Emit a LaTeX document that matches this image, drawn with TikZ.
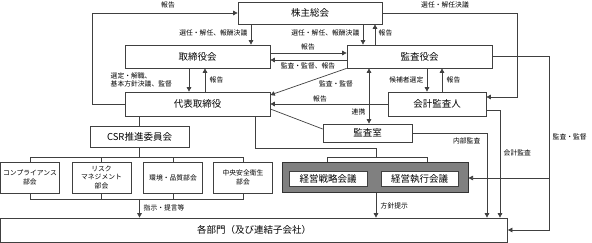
\documentclass[tikz,border=0pt]{standalone}
\usepackage{fontspec}
\setmainfont{Noto Sans CJK JP}
\usetikzlibrary{arrows.meta,positioning,calc}

\begin{document}
\begin{tikzpicture}[x=1pt, y=-1pt,
    box/.style={rectangle, draw=black!75, line width=0.7pt, fill=white,
                inner sep=0pt, align=center, font=\fontsize{9.5}{10.5}\selectfont},
    subbox/.style={box, minimum width=59pt, minimum height=31pt,
                   font=\fontsize{6.8}{8.6}\selectfont},
    group/.style={rectangle, draw=black!80, line width=1pt, fill=black!50,
                  inner sep=0pt},
    lbl/.style={inner sep=0.5pt, align=left, font=\fontsize{6.8}{8.2}\selectfont},
    arrow/.style={-{Triangle[length=4.5pt,width=4.5pt]}, line width=0.7pt, draw=black!75},
    darrow/.style={{Triangle[length=4.5pt,width=4.5pt]}-{Triangle[length=4.5pt,width=4.5pt]},
                   line width=0.7pt, draw=black!75},
    line/.style={line width=0.7pt, draw=black!75}
  ]
  \useasboundingbox (0,0) rectangle (592,243);

  % Boards
  \node[box, minimum width=144pt, minimum height=22pt] (soukai) at (310,13) {株主総会};
  \node[box, minimum width=145pt, minimum height=23pt] (torishimari) at (197.5,56.5) {取締役会};
  \node[box, minimum width=145pt, minimum height=23pt] (kansayaku) at (419.5,56.5) {監査役会};
  \node[box, minimum width=145pt, minimum height=24pt] (daihyo) at (197.5,104) {代表取締役};
  \node[box, minimum width=98pt, minimum height=24pt] (kaikei) at (437,104) {会計監査人};
  \node[box, minimum width=89pt, minimum height=18pt] (kansashitsu) at (367.5,133) {監査室};

  % CSR committee and its sub-committees
  \node[box, minimum width=99pt, minimum height=21pt] (csr) at (139.5,136.5) {CSR推進委員会};
  \node[subbox] (comp) at (30,177.5) {コンプライアンス\\部会};
  \node[subbox] (risk) at (101.5,177.5) {リスク\\マネジメント\\部会};
  \node[subbox] (kankyo) at (173,177.5) {環境・品質部会};
  \node[subbox] (chuo) at (243,177.5) {中央安全衛生\\部会};

  % Management meetings
  \node[group, minimum width=186pt, minimum height=30pt] (group) at (375,178) {};
  \node[box, minimum width=78pt, minimum height=15pt] (senryaku) at (328,178.5) {経営戦略会議};
  \node[box, minimum width=77pt, minimum height=15pt] (shikko) at (419.5,178.5) {経営執行会議};

  % Departments
  \node[box, minimum width=507pt, minimum height=24pt] (kakubumon) at (254,230) {各部門（及び連結子会社）};

  % Shareholders meeting
  \draw[arrow] (daihyo.west) -- (92,0 |- daihyo.west) -- (92,0 |- soukai.west) -- (soukai.west);
  \node[lbl] (l_soukai_hokoku) at (168,5) {報告};
  \draw[arrow] (251,0 |- soukai.south) -- (251,0 |- torishimari.north);
  \node[lbl, anchor=east] (l_torishimari_senin) at (248,33) {選任・解任、報酬決議};
  \draw[arrow] (363,0 |- soukai.south) -- (363,0 |- kansayaku.north);
  \node[lbl, anchor=east] (l_kansayaku_senin) at (360,33) {選任・解任、報酬決議};
  \draw[arrow] (375,0 |- kansayaku.north) -- (375,0 |- soukai.south);
  \node[lbl, anchor=west] (l_kansayaku_hokoku) at (378,33) {報告};
  \draw[arrow] (soukai.east) -- (517,0 |- soukai.east) -- (517,97) -- (0,97 -| kaikei.east);
  \node[lbl] (l_kaikei_senin) at (445,5) {選任・解任決議};

  % Board of directors and auditors
  \draw[arrow] (0,53 -| torishimari.east) -- (0,53 -| kansayaku.west);
  \node[lbl] (l_board_hokoku) at (308,47) {報告};
  \draw[arrow] (0,60 -| kansayaku.west) -- (0,60 -| torishimari.east);
  \node[lbl] (l_board_kansa) at (308,66) {監査・監督、報告};
  \draw[arrow] (189,0 |- torishimari.south) -- (189,0 |- daihyo.north);
  \node[lbl, anchor=west] (l_daihyo_sentei) at (110,80) {選定・解職、\\基本方針決議、監督};
  \draw[arrow] (205,0 |- daihyo.north) -- (205,0 |- torishimari.south);
  \node[lbl, anchor=west] (l_daihyo_hokoku) at (209,80) {報告};
  \draw[arrow] (kansayaku.south west) -- (0,95 -| daihyo.east);
  \node[lbl] (l_daihyo_kansa) at (336,84) {監査・監督};
  \draw[arrow] (kaikei.west) -- (kaikei.west -| daihyo.east);
  \node[lbl] (l_kaikei_hokoku) at (320,99) {報告};

  % Accounting auditor
  \draw[arrow] (427,0 |- kansayaku.south) -- (427,0 |- kaikei.north);
  \node[lbl, anchor=east] (l_kouho) at (424,80) {候補者選定};
  \draw[arrow] (442,0 |- kaikei.north) -- (442,0 |- kansayaku.south);
  \node[lbl, anchor=west] (l_kaikei_hokoku2) at (446,80) {報告};

  % Audit office
  \draw[darrow] (369,0 |- kansayaku.south) -- (369,0 |- kansashitsu.north);
  \node[lbl, anchor=east] (l_renkei) at (366,112) {連携};
  \draw[line] (0,109 -| daihyo.east) -- (0,129 -| kansashitsu.west);

  % Audits down to the departments
  \draw[arrow] (kansayaku.east) -- (549,0 |- kansayaku.east) -- (549,0 |- kakubumon.east) -- (kakubumon.east);
  \draw[arrow] (549,0 |- group.east) -- (group.east);
  \node[lbl, anchor=west] (l_kansa_kantoku) at (552,137) {監査・監督};
  \draw[arrow] (0,110 -| kaikei.east) -- (500,110) -- (500,0 |- kakubumon.north);
  \node[lbl, anchor=west] (l_kaikei_kansa) at (503,153) {会計監査};
  \draw[arrow] (kansashitsu.east) -- (487,0 |- kansashitsu.east) -- (487,0 |- kakubumon.north);
  \node[lbl, anchor=east] (l_naibu) at (481,141) {内部監査};

  % Management meetings
  \draw[line] (255,0 |- daihyo.south) -- (255,148) -- (376,148) -- (376,157);
  \draw[line] (327,0 |- group.north) -- (327,157) -- (427,157) -- (427,0 |- group.north);
  \draw[arrow] (376,0 |- group.south) -- (376,0 |- kakubumon.north);
  \node[lbl, anchor=west] (l_houshin) at (380,206) {方針提示};

  % CSR committee
  \draw[line] (csr.north |- daihyo.south) -- (csr.north);
  \draw[line] (csr.south) -- (csr.south |- 0,157);
  \draw[line] (comp.north) -- (comp.north |- 0,157) -- (chuo.north |- 0,157) -- (chuo.north);
  \draw[line] (comp.south) -- (comp.south |- 0,199) -- (chuo.south |- 0,199) -- (chuo.south);
  \foreach \sub in {risk, kankyo} {
    \draw[line] (\sub.north) -- (\sub.north |- 0,157);
    \draw[line] (\sub.south) -- (\sub.south |- 0,199);
  }
  \draw[arrow] (csr.south |- 0,199) -- (csr.south |- kakubumon.north);
  \node[lbl, anchor=west] (l_shiji) at (143,208) {指示・提言等};

\end{tikzpicture}
\end{document}
